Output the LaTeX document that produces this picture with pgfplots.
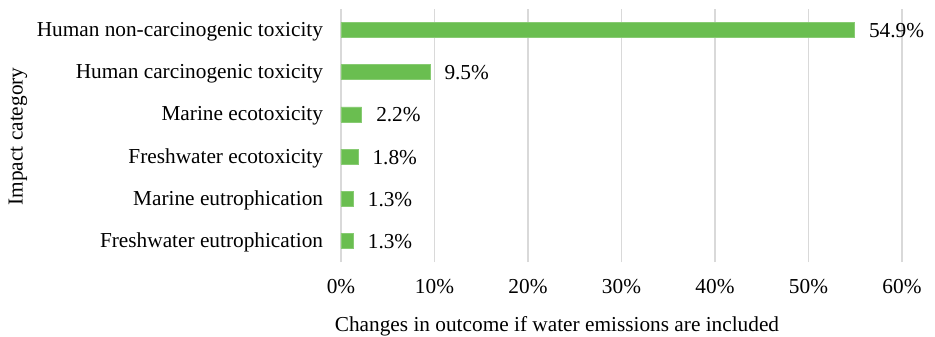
\documentclass[border=0pt]{standalone}
\usepackage{fontspec}
\setmainfont{Liberation Serif}
\usepackage{pgfplots}
\pgfplotsset{compat=1.18}
\definecolor{bargreen}{RGB}{106,190,80}
\definecolor{gridgray}{RGB}{217,217,217}
\newcommand\chartfont{\fontsize{21.3}{25.6}\selectfont}
\begin{document}
\begin{tikzpicture}
\useasboundingbox (0,0) rectangle (935pt,337pt);
\begin{axis}[
  at={(341pt,74.9pt)}, anchor=south west,
  scale only axis, width=561pt, height=253.4pt,
  xbar, bar width=15pt,
  xmin=0, xmax=60, ymin=-0.5, ymax=5.5,
  xtick={0,10,...,60},
  ytick={0,...,5},
  yticklabels={Freshwater eutrophication, Marine eutrophication, Freshwater ecotoxicity, Marine ecotoxicity, Human carcinogenic toxicity, Human non-carcinogenic toxicity},
  xticklabel={\pgfmathprintnumber{\tick}\%},
  /pgf/number format/assume math mode=true,
  xmajorgrids, major grid style={draw=gridgray, line width=1.6pt},
  axis line style={draw=none}, tick style={draw=none},
  xticklabel style={font=\chartfont, anchor=base, inner sep=0pt, yshift=-31pt},
  yticklabel style={font=\chartfont, anchor=base east, inner sep=0pt, xshift=-13.5pt, yshift=-6.5pt},
  xlabel={Changes in outcome if water emissions are included},
  ylabel={Impact category},
  xlabel style={font=\chartfont, at={(axis description cs:0.385,0)}, anchor=base, inner sep=0pt, yshift=-69.7pt},
  ylabel style={font=\chartfont, at={(axis description cs:-0.5674,0.4957)}, anchor=base, inner sep=0pt},
  nodes near coords={\pgfmathprintnumber[fixed,fixed zerofill,precision=1]{\pgfplotspointmeta}\%},
  every node near coord/.append style={font=\chartfont, anchor=base west, inner sep=0pt, xshift=14.5pt, yshift=-7.5pt, text=black},
]
\addplot[fill=bargreen, draw=bargreen!80!white] coordinates {
  (1.3,0) (1.3,1) (1.8,2) (2.2,3) (9.5,4) (54.9,5)
};
\end{axis}
\end{tikzpicture}
\end{document}
